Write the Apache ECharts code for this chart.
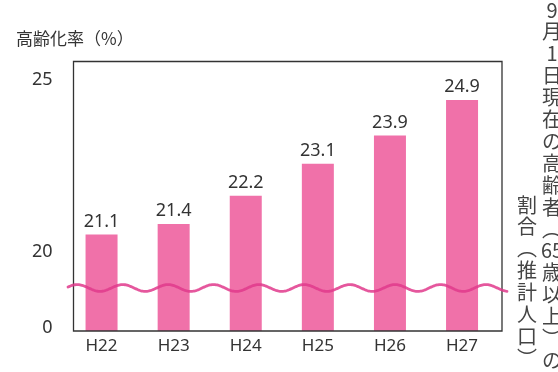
<!DOCTYPE html>
<html><head><meta charset="utf-8">
<script src="https://cdn.jsdelivr.net/npm/echarts@6/dist/echarts.min.js"></script>
<style>html,body{margin:0;padding:0;background:#fff}#c{width:558px;height:372px}</style>
</head><body><div id="c"></div>
<script>
const categories = ['H22', 'H23', 'H24', 'H25', 'H26', 'H27'];
const rates = [21.1, 21.4, 22.2, 23.1, 23.9, 24.9];
const yTickValues = [0, 20, 25];
const yTitle = '高齢化率（%）';
const captionRight = ['9','月','1','日','現','在','の','高','齢','者','︵','65','歳','以','上','︶','の'];
const captionLeft = ['割','合','︵','推','計','人','口','︶'];
const axisBreak = { start: 1.214, end: 19.594 };

const chart = echarts.init(document.getElementById('c'), null, { renderer: 'canvas' });
const NUM_FONT = '"Noto Sans", "DejaVu Sans", sans-serif';
const JP_FONT = '"Noto Sans CJK JP", sans-serif';
const TXT = '#333';

chart.setOption({
  animation: false,
  backgroundColor: '#fff',
  title: {
    text: yTitle, left: 11, top: 25,
    textStyle: { fontFamily: JP_FONT, fontSize: 17, fontWeight: 'normal', color: TXT }
  },
  grid: { left: 65.5, width: 432.6, top: 61, height: 270, containLabel: false },
  xAxis: {
    type: 'category', data: categories,
    axisLine: { show: false }, axisTick: { show: false },
    axisLabel: { margin: 7, fontFamily: NUM_FONT, fontSize: 17, color: TXT }
  },
  yAxis: {
    type: 'value', min: 0, max: 26,
    breaks: [{ start: axisBreak.start, end: axisBreak.end, gap: 0 }],
    breakArea: { show: false, itemStyle: { opacity: 0, borderWidth: 0 } },
    axisLine: { show: false }, axisTick: { show: false }, splitLine: { show: false },
    axisLabel: {
      customValues: yTickValues, margin: 13, verticalAlign: 'bottom',
      fontFamily: NUM_FONT, fontSize: 18, color: TXT,
      formatter: v => '{s' + v + '|' + v + '}',
      rich: {
        s0: { lineHeight: 6, fontFamily: NUM_FONT, fontSize: 18, color: TXT },
        s20: { lineHeight: 44, fontFamily: NUM_FONT, fontSize: 18, color: TXT },
        s25: { lineHeight: 34, fontFamily: NUM_FONT, fontSize: 18, color: TXT }
      }
    }
  },
  series: [{
    type: 'bar', data: rates, barWidth: 32,
    itemStyle: { color: '#F071A9' },
    label: { show: true, position: 'top', distance: 4, fontFamily: NUM_FONT, fontSize: 18, color: TXT,
      formatter: p => p.value.toFixed(1) }
  }]
});

// decoration: frame, wavy break line, vertical caption
const yc = chart.convertToPixel({ yAxisIndex: 0 }, axisBreak.start);
const pts = [];
const P = 45.4, A = 3.4, x0 = 100;
for (let x = 68; x <= 507; x += 1) {
  pts.push([x, yc + A * Math.cos(2 * Math.PI * (x - x0) / P)]);
}
const lh = 21.9;
chart.setOption({
  graphic: [
    { type: 'rect', z: 90, shape: { x: 73.5, y: 61.5, width: 428.5, height: 269.5 },
      style: { fill: null, stroke: '#333', lineWidth: 1.3 } },
    { type: 'polyline', z: 100, shape: { points: pts, smooth: 0 },
      style: { fill: null, stroke: 'rgba(224,58,140,0.85)', lineWidth: 2.8, lineCap: 'round' } },
    { type: 'text', z: 100, x: 552, y: 10 - lh / 2,
      style: { text: captionRight.join('\n'), font: '20px ' + JP_FONT, lineHeight: lh,
        fill: '#444', align: 'center', verticalAlign: 'top' } },
    { type: 'text', z: 100, x: 527, y: 205 - lh / 2,
      style: { text: captionLeft.join('\n'), font: '20px ' + JP_FONT, lineHeight: lh,
        fill: '#444', align: 'center', verticalAlign: 'top' } }
  ]
});
</script></body></html>
